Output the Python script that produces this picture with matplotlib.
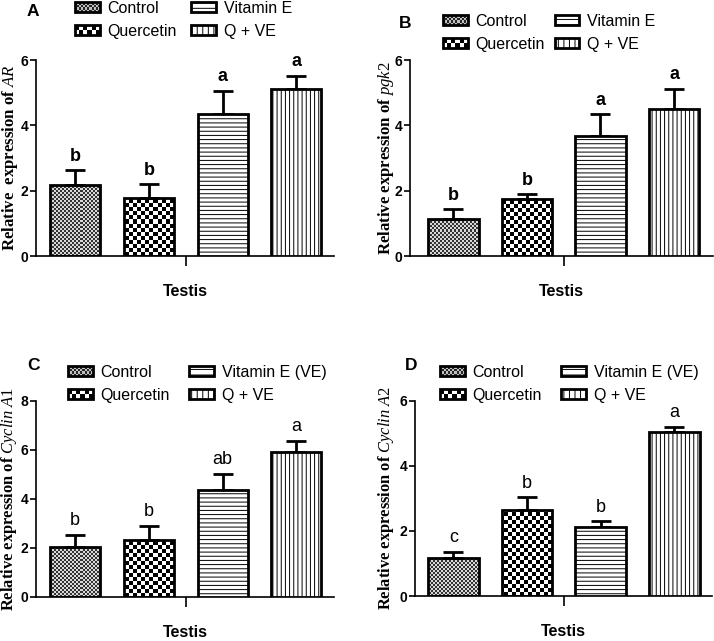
import numpy as np
import matplotlib
matplotlib.use('Agg')
import matplotlib.pyplot as plt
from matplotlib.colors import ListedColormap
from matplotlib.patches import Patch, Rectangle
from matplotlib.legend_handler import HandlerBase

## qPCR relative expression in testis, four panels

plt.rcParams['font.family'] = ['Liberation Sans', 'DejaVu Sans']
plt.rcParams['mathtext.fontset'] = 'custom'
plt.rcParams['mathtext.rm'] = 'Liberation Serif'
plt.rcParams['mathtext.bf'] = 'Liberation Serif:bold'
plt.rcParams['mathtext.it'] = 'Liberation Serif:italic'
plt.rcParams['hatch.linewidth'] = 0.7

groups = ['Control', 'Quercetin', 'Vitamin E', 'Q + VE']
groups_ve = ['Control', 'Quercetin', 'Vitamin E (VE)', 'Q + VE']

ar_mean = [2.17, 1.78, 4.35, 5.11]
ar_err = [0.46, 0.42, 0.71, 0.40]
ar_sig = ['b', 'b', 'a', 'a']

pgk2_mean = [1.14, 1.73, 3.67, 4.51]
pgk2_err = [0.29, 0.16, 0.67, 0.61]
pgk2_sig = ['b', 'b', 'a', 'a']

cyca1_mean = [2.04, 2.31, 4.35, 5.92]
cyca1_err = [0.48, 0.59, 0.67, 0.44]
cyca1_sig = ['b', 'b', 'ab', 'a']

cyca2_mean = [1.16, 2.64, 2.13, 5.04]
cyca2_err = [0.20, 0.39, 0.17, 0.16]
cyca2_sig = ['c', 'b', 'b', 'a']

W, H = 714, 641
fig = plt.figure(figsize=(W / 100, H / 100), dpi=100)


class HandlerChecker(HandlerBase):
    # legend box filled with a small checkerboard
    def __init__(self, n, m, dark, light):
        super().__init__()
        self.n, self.m, self.dark, self.light = n, m, dark, light

    def create_artists(self, legend, orig_handle, xdescent, ydescent,
                       width, height, fontsize, trans):
        x0, y0 = -xdescent, -ydescent
        arts = [Rectangle((x0, y0), width, height, facecolor=self.light,
                          edgecolor='none', transform=trans)]
        cw, ch = width / self.n, height / self.m
        for i in range(self.n):
            for j in range(self.m):
                if (i + j) % 2:
                    arts.append(Rectangle((x0 + i * cw, y0 + j * ch), cw, ch,
                                          facecolor=self.dark, edgecolor='none',
                                          transform=trans))
        arts.append(Rectangle((x0, y0), width, height, facecolor='none',
                              edgecolor='black', lw=2, transform=trans))
        return arts


def px(x0, y0, x1, y1):
    # pixel box -> figure fraction rect
    return [x0 / W, 1 - y1 / H, (x1 - x0) / W, (y1 - y0) / H]


def checker(ax, bar, cell, colors, xlim, ytop, pos):
    wpx, hpx = pos[2] * W, pos[3] * H
    nx, ny = int(round(wpx / cell)), int(round(hpx / cell))
    arr = np.add.outer(np.arange(ny), np.arange(nx)) % 2
    im = ax.imshow(arr, extent=(xlim[0], xlim[1], 0, ytop), origin='lower',
                   cmap=ListedColormap(colors), aspect='auto',
                   interpolation='nearest', zorder=2)
    im.set_clip_path(bar)


def panel(pos, means, errs, sig, ymax, gene, letter, labels, xlim, width,
          ylab_x, bold_sig, leg_xy, letter_xy, colspace, gap, ylab_size):
    ax = fig.add_axes(pos)
    x = np.arange(len(means))
    bars = ax.bar(x, means, width, facecolor='white', edgecolor='black',
                  linewidth=2, zorder=3)
    bars[0].set_facecolor('none')
    bars[1].set_facecolor('none')
    bars[2].set_hatch('----')
    bars[3].set_hatch('||||')
    checker(ax, bars[0], 2, ['0.2', '0.85'], xlim, ymax, pos)
    checker(ax, bars[1], 4, ['black', 'white'], xlim, ymax, pos)
    ax.errorbar(x, means, yerr=[np.zeros(len(errs)), errs], fmt='none',
                ecolor='black', elinewidth=2, capsize=7, capthick=2, zorder=2.5)
    for xi, m, e, s in zip(x, means, errs, sig):
        ax.annotate(s, (xi, m + e), xytext=(0, 4), textcoords='offset points',
                    ha='center', va='bottom', fontsize=13,
                    fontweight='bold' if bold_sig else 'normal')
    ax.set_xlim(*xlim)
    ax.set_ylim(0, ymax)
    ax.set_yticks(np.arange(0, ymax + 1, 2))
    ax.set_xticks([1.5])
    ax.set_xticklabels([''])
    for s in ('top', 'right'):
        ax.spines[s].set_visible(False)
    for s in ('left', 'bottom'):
        ax.spines[s].set_linewidth(1.2)
    ax.tick_params(axis='y', length=4, width=1.2, labelsize=10, pad=1.5)
    ax.tick_params(axis='x', length=7, width=1.2)
    for t in ax.get_yticklabels():
        t.set_fontweight('bold')
    ax.set_xlabel('Testis', fontsize=11.5, fontweight='bold', labelpad=10)
    ax.set_ylabel(r'$\mathbf{Relative' + gap + r'expression\ of}\ \mathit{' + gene + '}$',
                  fontsize=ylab_size, va='center')
    ax.yaxis.set_label_coords(ylab_x, 0.5)

    h_ctrl = Patch()
    h_quer = Patch()
    handles = [h_ctrl, h_quer,
               Patch(facecolor='white', edgecolor='black', hatch='---', lw=2),
               Patch(facecolor='white', edgecolor='black', hatch='|||', lw=2)]
    hmap = {h_ctrl: HandlerChecker(12, 4, '0.15', '0.75'),
            h_quer: HandlerChecker(6, 2, 'black', 'white')}
    fig.legend(handles, labels, ncol=2, loc='upper left', handler_map=hmap,
               bbox_to_anchor=(leg_xy[0] / W, 1 - leg_xy[1] / H),
               frameon=False, fontsize=11.5, borderpad=0, borderaxespad=0,
               handlelength=1.55, handleheight=0.6, handletextpad=0.5,
               labelspacing=0.5, columnspacing=colspace)
    fig.text(letter_xy[0] / W, 1 - letter_xy[1] / H, letter, fontsize=12.5,
             fontweight='bold', ha='center', va='center')
    return ax


panel(px(36, 60, 334, 256), ar_mean, ar_err, ar_sig, 6, 'AR', 'A', groups,
      (-0.53, 3.51), 0.68, -0.088, True, (75, 1), (33, 12), 0.9, r'\ \ ', 12.1)
panel(px(410, 60, 713, 256), pgk2_mean, pgk2_err, pgk2_sig, 6, 'pgk2', 'B', groups,
      (-0.59, 3.53), 0.69, -0.08, True, (443, 14), (405, 23), 0.6, r'\ ', 12.1)
panel(px(36, 400.7, 334, 596.7), cyca1_mean, cyca1_err, cyca1_sig, 8, r'Cyclin\ A1',
      'C', groups_ve, (-0.53, 3.51), 0.68, -0.092, False, (68, 365), (33, 365), 1.2,
      r'\ ', 11.9)
panel(px(415, 400.7, 712, 596), cyca2_mean, cyca2_err, cyca2_sig, 6, r'Cyclin\ A2',
      'D', groups_ve, (-0.52, 3.51), 0.69, -0.098, False, (440, 365), (411, 365), 1.2,
      r'\ ', 11.9)

fig.savefig('out.png', dpi=100)
